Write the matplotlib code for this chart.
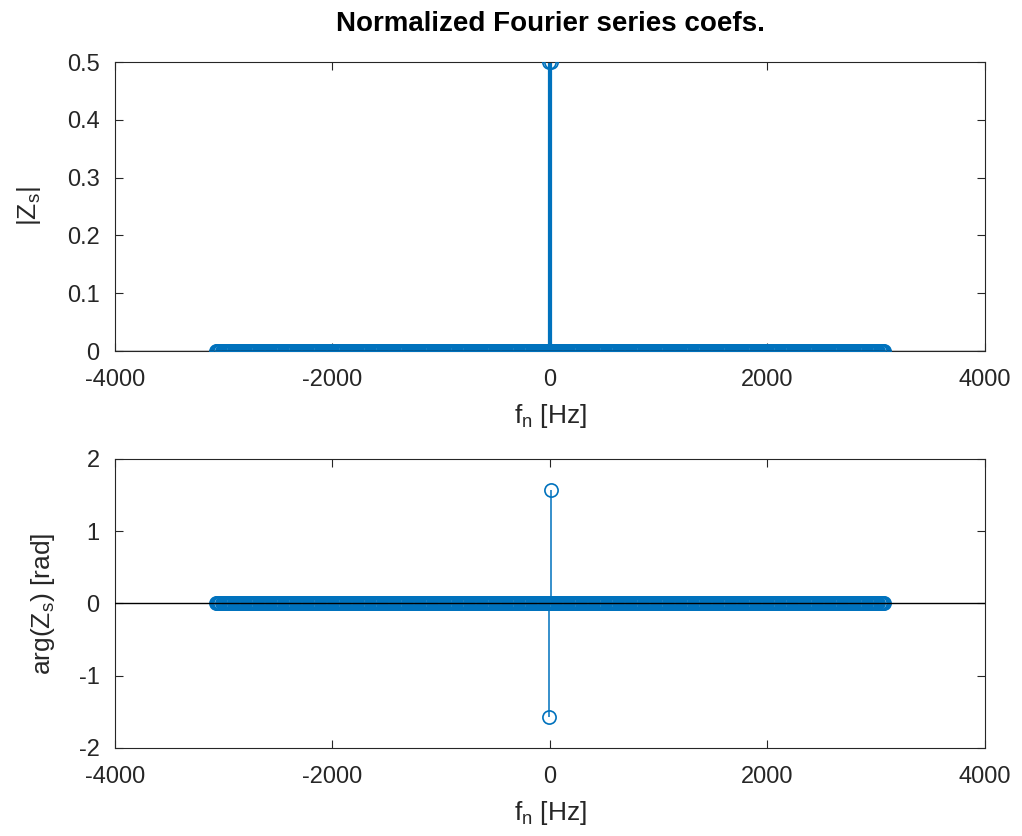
import numpy as np
import matplotlib
matplotlib.use("Agg")
import matplotlib.pyplot as plt

# harmonics of the Fourier series
f0 = 10.0            # fundamental [Hz]
n_max = 307          # highest harmonic index shown
peak_harmonics = [-1, 1]
peak_mag = [0.5, 0.5]
peak_phase = [-np.pi / 2, np.pi / 2]

n = np.arange(-n_max, n_max + 1)
fn = n * f0
mag = np.zeros(len(n))
phase = np.zeros(len(n))
for h, m, p in zip(peak_harmonics, peak_mag, peak_phase):
    mag[n == h] = m
    phase[n == h] = p

blue = "#0072BD"
plt.rcParams["font.family"] = ["Liberation Sans", "DejaVu Sans"]
plt.rcParams["mathtext.fontset"] = "custom"
plt.rcParams["mathtext.rm"] = "Liberation Sans"
plt.rcParams["mathtext.it"] = "Liberation Sans"
plt.rcParams["axes.unicode_minus"] = False

fig = plt.figure(figsize=(10.22, 8.36), dpi=100)
ax1 = fig.add_axes([0.1125, 0.5801, 0.8513, 0.3457])
ax2 = fig.add_axes([0.1125, 0.1053, 0.8513, 0.3457])


def stem_plot(ax, x, y, lw):
    ax.vlines(x, 0, y, color=blue, lw=lw, zorder=2)
    ax.plot(x, y, "o", mfc="none", mec=blue, ms=9.5, mew=1.2, zorder=3)
    ax.axhline(0, color="black", lw=1, zorder=4)


stem_plot(ax1, fn, mag, 1.6)
stem_plot(ax2, fn, phase, 1.1)

ax1.set_ylim(0, 0.5)
ax1.set_yticks(np.arange(0, 0.51, 0.1))
ax1.set_yticklabels(["0", "0.1", "0.2", "0.3", "0.4", "0.5"])
ax2.set_ylim(-2, 2)
ax2.set_yticks([-2, -1, 0, 1, 2])

for ax in (ax1, ax2):
    ax.set_xlim(-4000, 4000)
    ax.set_xticks([-4000, -2000, 0, 2000, 4000])
    ax.tick_params(direction="in", top=True, right=True, labelsize=17,
                   length=6, colors="#262626")
    ax.tick_params(axis="x", pad=13)
    ax.tick_params(axis="y", pad=11)
    for s in ax.spines.values():
        s.set_color("#262626")
        s.set_linewidth(0.8)
    ax.set_xlabel("f$_{\\rm n}$ [Hz]", fontsize=19, color="#262626", labelpad=8)

ax1.set_ylabel("|Z$_{\\rm s}$|", fontsize=19, color="#262626", labelpad=17)
ax2.set_ylabel("arg(Z$_{\\rm s}$) [rad]", fontsize=19, color="#262626", labelpad=16)
ax1.set_title("Normalized Fourier series coefs.", fontsize=20, fontweight="bold", pad=22)

fig.savefig("out.png", dpi=100)
